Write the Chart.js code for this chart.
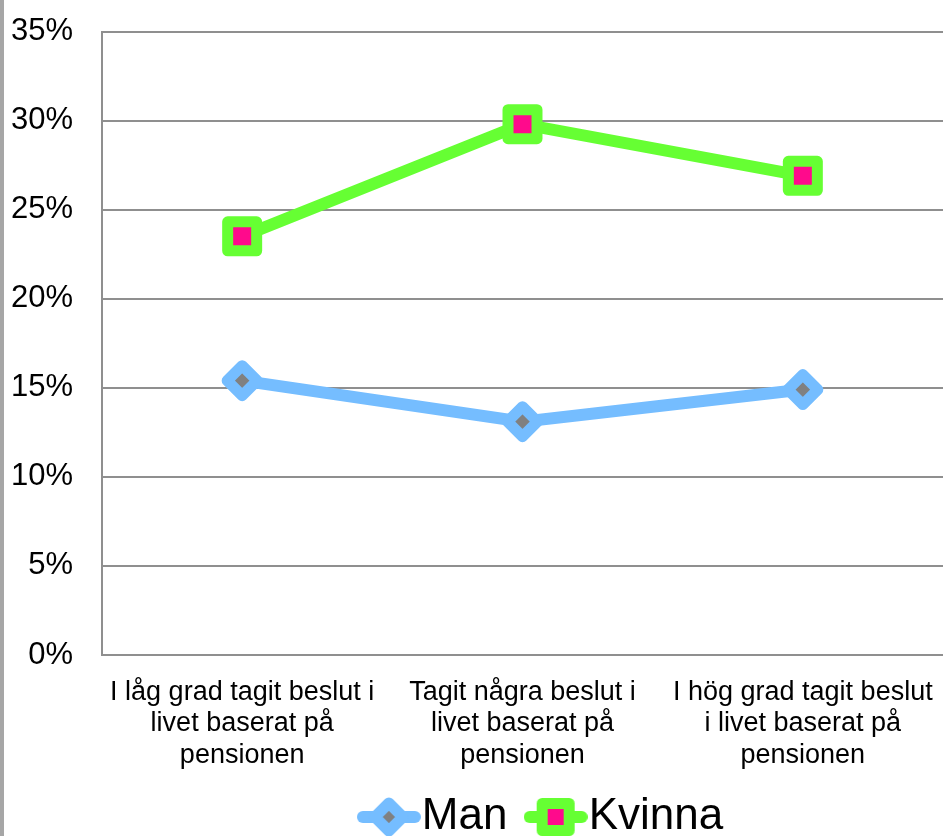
<!DOCTYPE html>
<html>
<head>
<meta charset="utf-8">
<script src="https://cdn.jsdelivr.net/npm/chart.js@4/dist/chart.umd.min.js"></script>
<style>
  html, body { margin: 0; padding: 0; background: #fff; overflow: hidden; }
  #wrap { position: relative; width: 943px; height: 836px; overflow: hidden; }
  #edge { position: absolute; left: 0; top: 0; width: 4px; height: 836px; background: #a6a6a6; z-index: 2; }
  #js--chart--1 { position: absolute; left: 0; top: 0; }
</style>
</head>
<body>
<div id="wrap">
  <div id="edge"></div>
  <canvas id="js--chart--1" width="1101" height="836"></canvas>
</div>
<script>
const categories = [
  ['I låg grad tagit beslut i', 'livet baserat på', 'pensionen'],
  ['Tagit några beslut i', 'livet baserat på', 'pensionen'],
  ['I hög grad tagit beslut', 'i livet baserat på', 'pensionen']
];
const manValues = [15.4, 13.1, 14.9];
const kvinnaValues = [23.5, 29.8, 26.9];
const yTicks = [0, 5, 10, 15, 20, 25, 30, 35];

const blue = '#75bdff';
const green = '#66ff33';
const pink = '#ff0a8c';
const grey = '#808080';
const gridColor = '#8f8f8f';
const fontFamily = '"Liberation Sans", Arial, sans-serif';
const canvasWidth = 1101;

// legend icons: line with marker
function makeIcon(kind) {
  const c = document.createElement('canvas');
  c.width = 64;
  c.height = 44;
  const g = c.getContext('2d');
  g.lineCap = 'round';
  g.lineJoin = 'round';
  g.lineWidth = 12;
  g.strokeStyle = kind === 'diamond' ? blue : green;
  g.beginPath();
  g.moveTo(6, 22);
  g.lineTo(58, 22);
  g.stroke();
  g.beginPath();
  if (kind === 'diamond') {
    const r = 14;
    g.moveTo(32, 22 - r); g.lineTo(32 + r, 22); g.lineTo(32, 22 + r); g.lineTo(32 - r, 22);
    g.closePath();
    g.fillStyle = grey;
  } else {
    const s = 13.5;
    g.rect(32 - s, 22 - s, 2 * s, 2 * s);
    g.fillStyle = pink;
  }
  g.fill();
  g.lineWidth = 11;
  g.stroke();
  return c;
}

const roundJoin = {
  id: 'roundJoin',
  beforeDatasetsDraw(chart) {
    chart.ctx.lineJoin = 'round';
  }
};

const ctx = document.getElementById('js--chart--1');

new Chart(ctx, {
  type: 'line',
  data: {
    labels: categories,
    datasets: [{
      label: 'Man',
      data: manValues,
      borderColor: blue,
      borderWidth: 12,
      pointStyle: 'rectRot',
      pointRadius: 15,
      pointHoverRadius: 15,
      pointBackgroundColor: grey,
      pointBorderColor: blue,
      pointBorderWidth: 11,
      tension: 0
    }, {
      label: 'Kvinna',
      data: kvinnaValues,
      borderColor: green,
      borderWidth: 12,
      pointStyle: 'rect',
      pointRadius: 20.5,
      pointHoverRadius: 20.5,
      pointBackgroundColor: pink,
      pointBorderColor: green,
      pointBorderWidth: 11,
      tension: 0
    }]
  },
  options: {
    responsive: false,
    animation: false,
    layout: { padding: { top: 18, left: 0, right: 0, bottom: -13 } },
    scales: {
      x: {
        offset: true,
        grid: { display: false, offset: true },
        border: { display: false },
        ticks: {
          color: '#000',
          font: { family: fontFamily, size: 27, lineHeight: 1.16 },
          padding: 14,
          maxRotation: 0,
          autoSkip: false
        },
        afterFit: s => { s.height = 115; }
      },
      y: {
        min: 0,
        max: 35,
        afterBuildTicks: s => { s.ticks = yTicks.map(v => ({ value: v })); },
        grid: { color: gridColor, lineWidth: 2, drawTicks: true, tickLength: 29, tickColor: 'rgba(0,0,0,0)' },
        border: { display: true, color: gridColor, width: 2 },
        ticks: {
          color: '#000',
          font: { family: fontFamily, size: 31, lineHeight: 0.75 },
          padding: 0,
          callback: v => v + '%'
        },
        afterFit: s => {
          s.width = 102;
          s.paddingTop = 25;
          s.paddingBottom = 0;
        }
      },
      yRight: {
        type: 'linear',
        position: 'right',
        display: true,
        grid: { display: false },
        border: { display: false },
        ticks: { display: false },
        afterFit: s => { s.width = canvasWidth - 943; }
      }
    },
    plugins: {
      tooltip: { enabled: false },
      legend: {
        position: 'bottom',
        labels: {
          usePointStyle: true,
          pointStyleWidth: 22,
          padding: 25,
          color: '#000',
          font: { family: fontFamily, size: 44 },
          generateLabels: () => [
            { text: 'Man ', pointStyle: makeIcon('diamond'), fontColor: '#000', lineWidth: 0, datasetIndex: 0 },
            { text: 'Kvinna', pointStyle: makeIcon('square'), fontColor: '#000', lineWidth: 0, datasetIndex: 1 }
          ]
        }
      }
    }
  },
  plugins: [roundJoin]
});
</script>
</body>
</html>
